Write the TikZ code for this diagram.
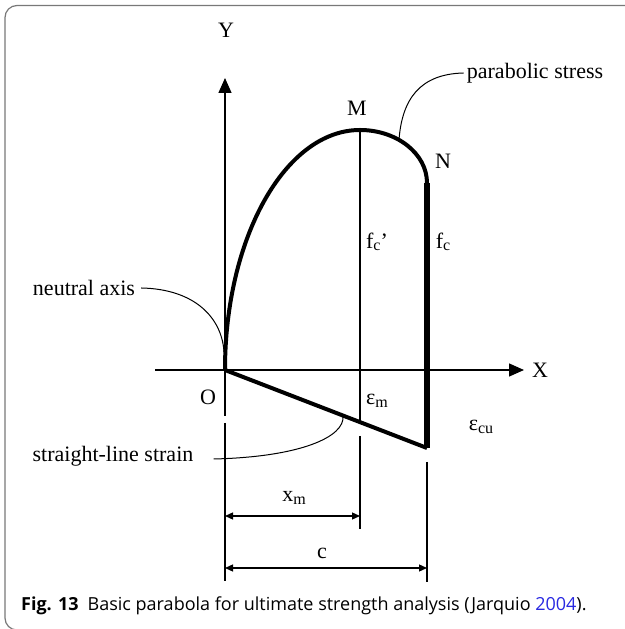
\documentclass[tikz,border=0pt]{standalone}
\usepackage{fontspec}
\setmainfont{Liberation Serif}
\newfontfamily\capfont{Open Sans}
\usetikzlibrary{arrows.meta}
\definecolor{capblue}{RGB}{40,40,225}
\definecolor{framegray}{RGB}{120,120,120}
% lowered small subscript in text
\newcommand{\lsub}[1]{\raisebox{-0.25ex}{\fontsize{16}{16}\selectfont #1}}

\begin{document}
\begin{tikzpicture}[x=1pt, y=1pt,
    every node/.style={font=\fontsize{22}{25}\selectfont, inner sep=0pt},
    curve/.style={line width=4pt, line join=round},
    thin line/.style={line width=1.5pt},
    leader/.style={line width=1pt},
    axis/.style={line width=1.3pt, -{Triangle[length=15pt, width=13pt]}},
    dim/.style={line width=1.3pt,
                {Triangle[length=8pt, width=7pt]}-{Triangle[length=8pt, width=7pt]}},
]
    \useasboundingbox (0,0) rectangle (624,629);
    \draw[framegray, line width=1.2pt, rounded corners=12pt]
        (640,623.5) -- (5,623.5) -- (5,-1) -- (640,-1);

    % axes
    \coordinate (O) at (225,259);
    \coordinate (Ytip) at (225,551);
    \coordinate (Xstart) at (155,259);
    \coordinate (Xtip) at (524,259);
    \draw[axis] (O) -- (Ytip);
    \draw[axis] (Xstart) -- (Xtip);
    \node (Ylab) at (226,599) {Y};
    \node (Xlab) at (540,259) {X};
    \node (Olab) at (208,232) {O};

    % stress block and strain line
    \coordinate (M) at (360,499);
    \coordinate (Ntop) at (427,446);
    \coordinate (Nbot) at (427,181);
    \draw[curve] (O) arc[start angle=180, end angle=90, x radius=135, y radius=240]
                     arc[start angle=90, end angle=0, x radius=67, y radius=53];
    \draw[line width=6pt] (Ntop) -- (Nbot);
    \draw[curve] (O) -- (Nbot);
    \node (Mlab) at (357,521) {M};
    \node (Nlab) at (443,468) {N};

    % verticals
    \coordinate (Mstrain) at (360,208);
    \coordinate (Mlow) at (360,193);
    \coordinate (Mend) at (360,100);
    \coordinate (Ogap) at (225,213);
    \coordinate (Olow) at (225,206);
    \coordinate (Oend) at (225,48);
    \coordinate (Nlow) at (427,167);
    \coordinate (Nend) at (427,47);
    \draw[thin line] (M) -- (Mstrain);
    \draw[thin line] (Mlow) -- (Mend);
    \draw[thin line] (O) -- (Ogap);
    \draw[thin line] (Olow) -- (Oend);
    \draw[thin line] (Nlow) -- (Nend);

    \node (fcp) at (377,387) {f\lsub{c}’};
    \node (fc) at (443,387) {f\lsub{c}};
    \node (epsm) at (377,228) {ε\lsub{m}};
    \node (epscu) at (481,202) {ε\lsub{cu}};

    % dimensions
    \coordinate (xmL) at (225,113);
    \coordinate (xmR) at (360,113);
    \coordinate (cL) at (225,61);
    \coordinate (cR) at (427,61);
    \draw[dim] (xmL) -- (xmR);
    \draw[dim] (cL) -- (cR);
    \node (xmlab) at (294,131) {x\lsub{m}};
    \node (clab) at (322,76) {c};

    % leaders
    \node (na) at (84,341) {neutral axis};
    \node (ps) at (535,556) {parabolic stress};
    \node (sls) at (113,173) {straight-line strain};
    \coordinate (naend) at (224,277);
    \coordinate (psend) at (399,489);
    \coordinate (slsend) at (343,213);
    \draw[leader] (na.east) ++(6,0) .. controls (195,340) and (222,311) .. (naend);
    \draw[leader] (ps.west) ++(-3,0) .. controls (420,555) and (402,530) .. (psend);
    \draw[leader] (sls.east) ++(20,-3) .. controls (300,172) and (345,192) .. (slsend);

    % caption
    \node[anchor=base west, font=\capfont\fontsize{18}{21}\selectfont] (cap) at (21,18)
        {\textbf{Fig. 13}\hspace{9pt}Basic parabola for ultimate strength analysis (Jarquio \textcolor{capblue}{2004}).};
\end{tikzpicture}
\end{document}
